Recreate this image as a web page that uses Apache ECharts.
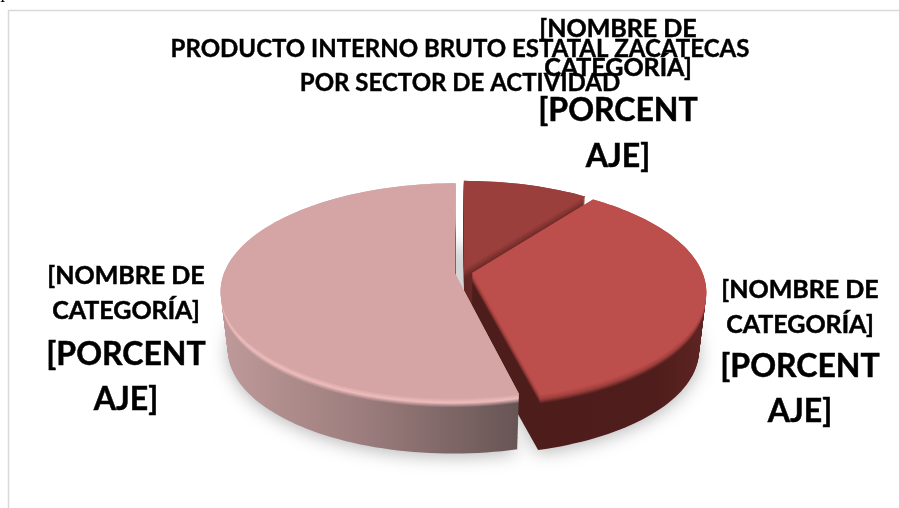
<!DOCTYPE html>
<html><head><meta charset="utf-8">
<style>html,body{margin:0;padding:0;background:#fff}#c{width:899px;height:508px}</style>
<script src="https://cdn.jsdelivr.net/npm/echarts@6/dist/echarts.min.js"></script>
</head><body><div id="c"></div>
<script>
// Data (clockwise from the top)
const sliceValues = [10.3, 35.85, 53.85];
const nameLines = ['[NOMBRE DE', 'CATEGORÍA]'];
const percentLines = ['[PORCENT', 'AJE]'];
const titleLines = ['PRODUCTO INTERNO BRUTO ESTATAL ZACATECAS', 'POR SECTOR DE ACTIVIDAD'];

// Styling per slice
const sliceStyle = [
  {top:'#9b3f3c', rim:'#823331', side:[[0,'#642725'],[1,'#642725']], grad:[460,590], explode:0.03},
  {top:'#bc4e4b', rim:'#a03f3c', side:[[0,'#4d1d1b'],[0.8,'#4f1e1c'],[1,'#5e2422']], grad:[470,705], explode:0.045},
  {top:'#d5a5a5', rim:'#efbcbc', side:[[0,'#c09a9a'],[0.5,'#9a7b7b'],[1,'#665454']], grad:[220,521], explode:0.033}
];
const labelAnchors = [
  {x:618, ys:[29,68,111,157]},
  {x:800, ys:[290,325,367,412]},
  {x:126, ys:[276,311,355,400]}
];
const view = {cx:462, cy:272, rx:230, ry:104.3, persp:0.172, height:58.8, shrink:0.03, bevel:0.17};

const total = sliceValues.reduce((a,b)=>a+b,0);
const seriesData = [];
sliceValues.reduce((acc,v,i)=>{ seriesData.push({value:[i, acc, acc+v]}); return acc+v; },0);

function project(x,y,t){
  const d = 1+view.persp*y, s = 1-view.shrink*t;
  return [view.cx+s*view.rx*x/d, view.cy+view.height*t-s*view.ry*y/d];
}
function sliceOutline(a0,a1,explode,t){
  const mid=(a0+a1)/2, ox=explode*Math.sin(mid), oy=explode*Math.cos(mid);
  const pts=[project(ox,oy,t)], n=Math.max(8,Math.ceil((a1-a0)/0.03));
  for(let i=0;i<=n;i++){
    const a=a0+(a1-a0)*i/n;
    pts.push(project(ox+Math.sin(a),oy+Math.cos(a),t));
  }
  return pts;
}
const lerp=(f,a,b)=>echarts.color.lerp(f,[a,b]);
function layerFill(st,t){
  const u=t/view.bevel;
  const stops=st.side.map(([o,c])=>{
    let col=c;
    if(u<1) col = u<0.5 ? lerp(u*2,st.top,st.rim) : lerp((u-0.5)*2,st.rim,c);
    return {offset:o,color:col};
  });
  return {type:'linear',global:true,x:st.grad[0],y:0,x2:st.grad[1],y2:0,colorStops:stops};
}
function renderSlice(params,api){
  const i=api.value(0);
  const a0=api.value(1)/total*2*Math.PI, a1=api.value(2)/total*2*Math.PI;
  const st=sliceStyle[i], children=[];
  const steps=Math.round(view.height);
  for(let k=steps;k>=0;k--){
    const t=k/steps;
    const style={fill:layerFill(st,t)};
    if(k===steps){ style.shadowColor='rgba(0,0,0,0.28)'; style.shadowBlur=18; style.shadowOffsetY=3; }
    children.push({type:'polygon',silent:true,shape:{points:sliceOutline(a0,a1,st.explode,t)},style});
  }
  children.push({type:'polygon',silent:true,shape:{points:sliceOutline(a0,a1,st.explode,0)},style:{fill:st.top}});
  return {type:'group',children};
}
function labelTexts(i){
  const a=labelAnchors[i];
  const lines=nameLines.concat(percentLines);
  return lines.map((s,j)=>({
    type:'text',silent:true,z:10,x:a.x,y:a.ys[j],
    style:{text:s,align:'center',verticalAlign:'middle',fontFamily:'Lato',fontWeight:'bold',
      fontSize:j<2?25:32,fill:'#000',stroke:'#000',lineWidth:0.5}
  }));
}
const chart=echarts.init(document.getElementById('c'),null,{renderer:'canvas'});
chart.setOption({
  animation:false,
  backgroundColor:'#fff',
  title:{
    text:titleLines.join('\n'),left:455,top:27,textAlign:'center',
    textStyle:{fontFamily:'Lato',fontWeight:'bold',fontSize:24,lineHeight:34,color:'#000',textBorderColor:'#000',textBorderWidth:0.4}
  },
  series:[{type:'custom',coordinateSystem:'none',renderItem:renderSlice,data:seriesData,silent:true,clip:false}],
  graphic:[
    {type:'line',silent:true,shape:{x1:8.5,y1:10,x2:8.5,y2:508},style:{stroke:'#d9d9d9',lineWidth:1.5}},
    {type:'line',silent:true,shape:{x1:8,y1:10.5,x2:899,y2:10.5},style:{stroke:'#d9d9d9',lineWidth:1.5}},
    {type:'text',silent:true,x:0,y:-10,style:{text:'I',fontFamily:'Liberation Serif',fontSize:16,fill:'#000'}},
    ...sliceValues.flatMap((v,i)=>labelTexts(i))
  ]
});
</script></body></html>
